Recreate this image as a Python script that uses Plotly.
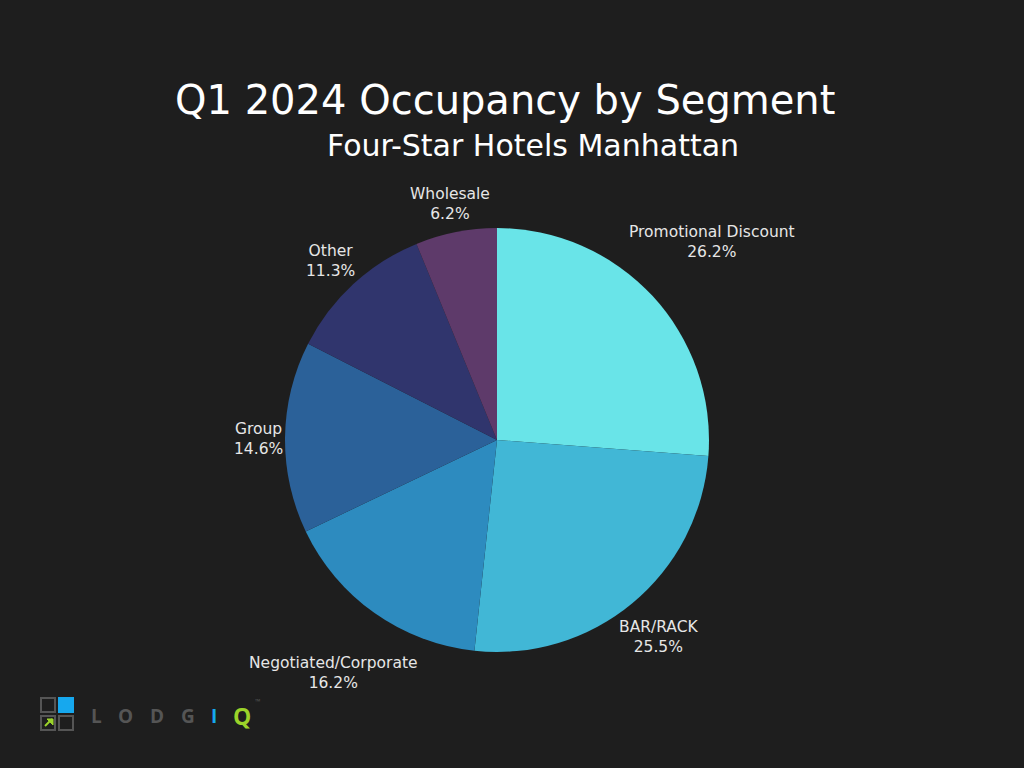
import math
import plotly.graph_objects as go

segments = ["Promotional Discount", "BAR/RACK", "Negotiated/Corporate", "Group", "Other", "Wholesale"]
shares = [26.2, 25.5, 16.2, 14.6, 11.3, 6.2]
colors = ["#69E4E8", "#41B7D6", "#2D8BBF", "#2B6199", "#30356D", "#5E3A6A"]

W, H = 1024, 768
cx, cy, r = 497, 440, 212
FONT = "DejaVu Sans"
LABEL_SIZE = 15.5

fig = go.Figure(go.Pie(
    labels=segments,
    values=shares,
    sort=False,
    direction="clockwise",
    rotation=0,
    marker=dict(colors=colors, line=dict(width=0)),
    textinfo="none",
    hoverinfo="label+percent",
    showlegend=False,
    domain=dict(x=[(cx - r) / W, (cx + r) / W], y=[(H - cy - r) / H, (H - cy + r) / H]),
))

# outside labels placed radially from each slice's mid-angle
total = sum(shares)
cum = 0.0
for lab, v in zip(segments, shares):
    mid = (cum + v / 2) / total * 2 * math.pi
    cum += v
    s, c = math.sin(mid), math.cos(mid)
    pct = f"{v:.1f}%"
    half_w = 0.28 * LABEL_SIZE * max(len(lab), len(pct)) + 2
    half_h = 20
    d = r + 3 + abs(s) * half_w + abs(c) * half_h
    x = cx + d * s
    y = cy - d * c + 2
    fig.add_annotation(text=f"{lab}<br>{pct}", x=x / W, y=1 - y / H, xref="paper", yref="paper",
                       xanchor="center", yanchor="middle", showarrow=False, align="center",
                       font=dict(family=FONT, size=LABEL_SIZE, color="#E6E6E6"))

fig.add_annotation(text="Q1 2024 Occupancy by Segment", x=505 / W, y=1 - 100 / H,
                   xref="paper", yref="paper", showarrow=False, yanchor="middle",
                   font=dict(family=FONT, size=40, color="#FFFFFF"))
fig.add_annotation(text="Four-Star Hotels Manhattan", x=533 / W, y=1 - 146 / H,
                   xref="paper", yref="paper", showarrow=False, yanchor="middle",
                   font=dict(family=FONT, size=30, color="#FFFFFF"))

# logo squares
sq = [(41, 698, None, "#555555"), (59, 698, "#16A8EE", "#16A8EE"),
      (41, 716, None, "#555555"), (59, 716, None, "#555555")]
for x0, y0, fill, line in sq:
    fig.add_shape(type="rect", xref="paper", yref="paper",
                  x0=x0 / W, x1=(x0 + 14) / W, y0=1 - (y0 + 14) / H, y1=1 - y0 / H,
                  line=dict(color=line, width=2), fillcolor=fill if fill else "rgba(0,0,0,0)")
fig.add_shape(type="line", xref="paper", yref="paper",
              x0=45 / W, y0=1 - 726 / H, x1=52 / W, y1=1 - 719 / H,
              line=dict(color="#9BD32A", width=2))
fig.add_shape(type="path", xref="paper", yref="paper",
              path=f"M {47/W} {1-719/H} L {53/W} {1-719/H} L {53/W} {1-725/H} Z",
              line=dict(color="#9BD32A", width=1), fillcolor="#9BD32A")

letters = [("L", 96, "#555555", 19), ("O", 125, "#555555", 19), ("D", 157, "#555555", 19),
           ("G", 188, "#555555", 19), ("I", 214, "#16A8EE", 19), ("Q", 242, "#9BD32A", 23)]
for ch, x, c, sz in letters:
    fig.add_annotation(text=f"<b>{ch}</b>", x=x / W, y=1 - 716 / H,
                       xref="paper", yref="paper",
                       showarrow=False, xanchor="center", yanchor="middle",
                       font=dict(family="Open Sans", size=sz, color=c))
fig.add_annotation(text="™", x=253 / W, y=1 - 701 / H, xref="paper", yref="paper",
                   showarrow=False, xanchor="left", yanchor="middle",
                   font=dict(family="Open Sans", size=7, color="#555555"))

fig.update_layout(
    width=W, height=H,
    margin=dict(l=0, r=0, t=0, b=0),
    paper_bgcolor="#1E1E1E",
    plot_bgcolor="#1E1E1E",
)

fig.write_html("out.html")
